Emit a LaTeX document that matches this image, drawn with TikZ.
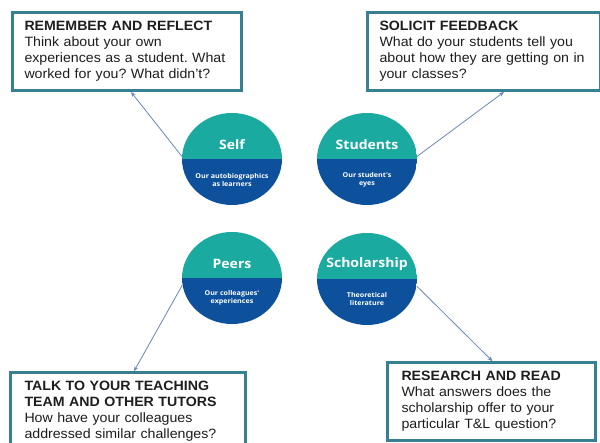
\documentclass[tikz,border=0pt]{standalone}
\usepackage{fontspec}
\setmainfont[FakeStretch=1.05]{Liberation Sans}
\newfontfamily\lensfont[FakeStretch=1.08]{Open Sans}
\usetikzlibrary{calc,arrows.meta,shapes.geometric}

\definecolor{lensteal}{RGB}{26,170,160}
\definecolor{lensblue}{RGB}{13,80,156}
\definecolor{boxedge}{RGB}{55,128,148}
\definecolor{linkcol}{RGB}{105,135,182}
\definecolor{inktext}{RGB}{30,30,30}

\begin{document}
\frenchspacing
\begin{tikzpicture}[x=1pt,y=1pt,
  promptbox/.style={draw=boxedge, line width=2.5pt, fill=white, anchor=north west,
    inner xsep=12pt, inner ysep=9pt, align=left, text=inktext,
    font=\fontsize{13.5}{16}\selectfont},
  lens/.style={ellipse, minimum width=100pt, minimum height=92pt, inner sep=0pt,
    path picture={
      \fill[lensteal] (path picture bounding box.north west) rectangle (path picture bounding box.east);
      \fill[lensblue] (path picture bounding box.south west) rectangle (path picture bounding box.east);}},
  lenstitle/.style={text=white, font=\lensfont\bfseries\fontsize{13}{14}\selectfont},
  lensnote/.style={text=white, align=center, font=\lensfont\bfseries\fontsize{6.6}{8.3}\selectfont},
  link/.style={draw=linkcol, line width=0.8pt, -{Stealth[length=5pt,width=4pt]}}
]
\useasboundingbox (0,0) rectangle (600,443);

% the four prompt boxes
\node[promptbox, text width=205pt] (reflect) at (11.25,431.75)
  {\textbf{REMEMBER AND REFLECT}\\Think about your own\\experiences as a student. What\\worked for you? What didn't?};
\node[promptbox, text width=209pt] (feedback) at (366.25,431.75)
  {\textbf{SOLICIT FEEDBACK}\\What do your students tell you\\about how they are getting on in\\your classes?};
\node[promptbox, text width=207pt, inner xsep=14pt] (talk) at (9.25,71.75)
  {\textbf{TALK TO YOUR TEACHING}\\\textbf{TEAM AND OTHER TUTORS}\\How have your colleagues\\addressed similar challenges?};
\node[promptbox, text width=180pt, inner xsep=14pt] (research) at (386.25,81.75)
  {\textbf{RESEARCH AND READ}\\What answers does the\\scholarship offer to your\\particular T\&L question?};

% the four lenses
\node[lens] (self) at (232,284) {};
\node[lens] (students) at (367,284) {};
\node[lens] (peers) at (232,165) {};
\node[lens] (scholarship) at (367,164) {};

\node[lenstitle] (selfT) at ($(self.center)+(0,14)$) {Self};
\node[lensnote] (selfN) at ($(self.center)+(0,-21)$) {Our autobiographics\\as learners};
\node[lenstitle] (studentsT) at ($(students.center)+(0,14)$) {Students};
\node[lensnote] (studentsN) at ($(students.center)+(0,-21)$) {Our student's\\eyes};
\node[lenstitle] (peersT) at ($(peers.center)+(0,14)$) {Peers};
\node[lensnote] (peersN) at ($(peers.center)+(0,-20)$) {Our colleagues'\\experiences};
\node[lenstitle] (scholarshipT) at ($(scholarship.center)+(0,15)$) {Scholarship};
\node[lensnote] (scholarshipN) at ($(scholarship.center)+(0,-20)$) {Theoretical\\literature};

% connectors from each lens to its prompt
\draw[link] (self.177) -- ($(reflect.south)+(4,0)$);
\draw[link] (students.3) -- ($(feedback.south)+(20,0)$);
\draw[link] (peers.188) -- ($(talk.north)+(6,0)$);
\draw[link] (scholarship.-8) -- ($(research.north)+(1,0)$);
\end{tikzpicture}
\end{document}
